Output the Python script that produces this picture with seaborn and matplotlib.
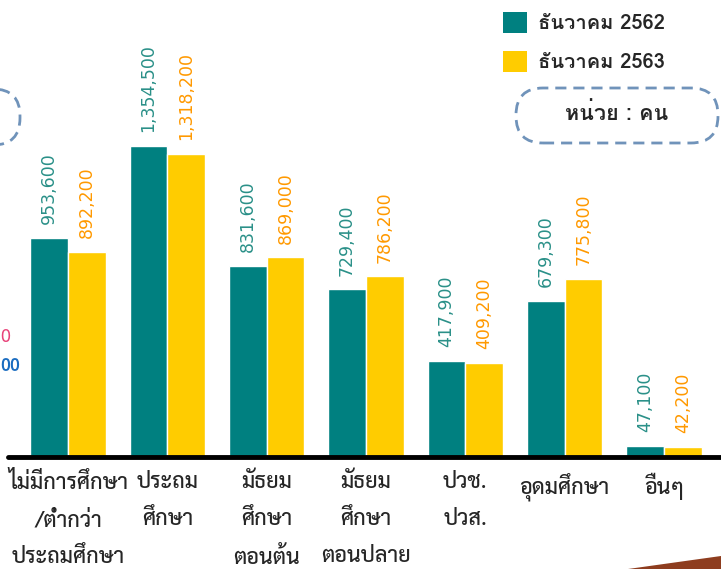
import matplotlib
matplotlib.use("Agg")
import matplotlib.pyplot as plt
import pandas as pd
import seaborn as sns
from matplotlib.patches import Patch, FancyBboxPatch, Polygon
from matplotlib.transforms import IdentityTransform

categories = [
    "ไม่มีการศึกษา\n/ต่ำกว่า\nประถมศึกษา",
    "ประถม\nศึกษา",
    "มัธยม\nศึกษา\nตอนต้น",
    "มัธยม\nศึกษา\nตอนปลาย",
    "ปวช.\nปวส.",
    "อุดมศึกษา",
    "อื่นๆ",
]
dec_2562 = [953600, 1354500, 831600, 729400, 417900, 679300, 47100]
dec_2563 = [892200, 1318200, 869000, 786200, 409200, 775800, 42200]
periods = ["ธันวาคม 2562", "ธันวาคม 2563"]

bar_colors = ["#008080", "#ffcc00"]
label_colors = ["#2a9088", "#ff9900"]

df = pd.DataFrame({
    "category": categories * 2,
    "value": dec_2562 + dec_2563,
    "period": [periods[0]] * len(categories) + [periods[1]] * len(categories),
})

sns.set_style("white")
thai = ["Loma", "DejaVu Sans"]
tick_font = ["Sarabun", "Loma", "DejaVu Sans"]

W, H = 721, 569
fig = plt.figure(figsize=(W / 100, H / 100), dpi=100)
ax = fig.add_axes([8 / W, 1 - 457 / H, 1 - 8 / W, 457 / H])

sns.barplot(data=df, x="category", y="value", hue="period", palette=bar_colors,
            width=0.76, saturation=1, edgecolor="white", linewidth=1,
            legend=False, ax=ax)

for cont, col in zip(ax.containers, label_colors):
    ax.bar_label(cont, labels=[f"{v:,.0f}" for v in cont.datavalues],
                 padding=10, rotation=90, color=col, fontsize=12.5,
                 family="DejaVu Sans")

ax.set_xlim(-0.604, 6.574)
ax.set_ylim(0, 1990000)
ax.axhline(0, color="black", lw=3.5, clip_on=False, zorder=5)
for s in ax.spines.values():
    s.set_visible(False)
ax.set_yticks([])
ax.set_xlabel("")
ax.set_ylabel("")
ax.tick_params(axis="x", length=0, pad=11)
for t in ax.get_xticklabels():
    t.set_family(tick_font)
    t.set_fontsize(15.5)
    t.set_fontweight("medium")
    t.set_linespacing(2.0)
    t.set_multialignment("center")

# legend
handles = [Patch(facecolor=c, edgecolor="none") for c in bar_colors]
fig.legend(handles, periods, loc="upper left", bbox_to_anchor=(503 / W, 1 - 12 / H),
           frameon=False, borderpad=0, borderaxespad=0, handlelength=1.2,
           handleheight=1.2, handletextpad=0.55, labelspacing=0.9,
           prop={"family": thai, "weight": "bold", "size": 14.5})

# unit box
unit_box = FancyBboxPatch((516, H - 143), 202, 55, boxstyle="round,pad=0,rounding_size=27",
                          transform=IdentityTransform(), facecolor="none",
                          edgecolor="#7093ba", lw=2, ls=(0, (4, 2.5)))
fig.patches.append(unit_box)
fig.text(617 / W, 1 - 113 / H, "หน่วย : คน", ha="center", va="center",
         family=thai, weight="bold", fontsize=15.5)

# fragments cut off at the left edge
left_box = FancyBboxPatch((-180, H - 145), 200, 56, boxstyle="round,pad=0,rounding_size=27",
                          transform=IdentityTransform(), facecolor="none",
                          edgecolor="#7093ba", lw=2, ls=(0, (4, 2.5)))
fig.patches.append(left_box)
fig.text(10 / W, 1 - 337 / H, "0", ha="right", va="center", color="#e8437a",
         family=thai, fontsize=13)
fig.text(20 / W, 1 - 366 / H, "00", ha="right", va="center", color="#1a6cc0",
         family=thai, weight="bold", fontsize=13)

# decorative wedge bottom-right
fig.patches.append(Polygon([(628 / W, 0), (1, 13 / H), (1, 0)], closed=True,
                           transform=fig.transFigure, facecolor="#8e3d1f",
                           edgecolor="none"))

fig.savefig("out.png", dpi=100)
